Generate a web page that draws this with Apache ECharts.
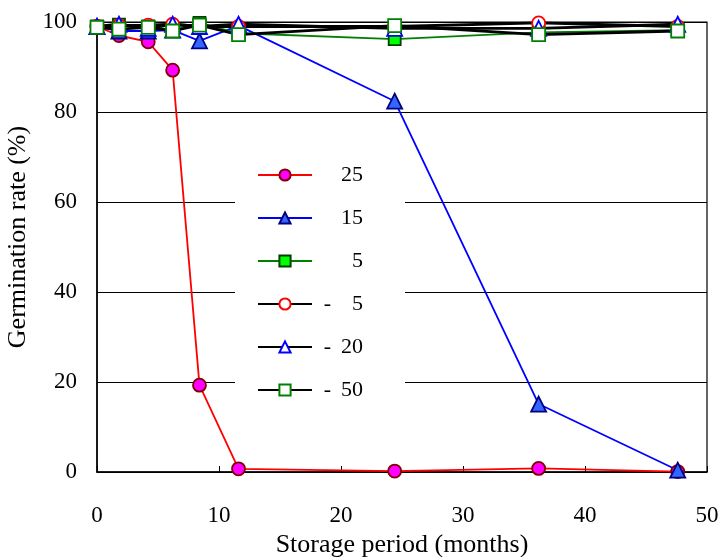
<!DOCTYPE html>
<html>
<head>
<meta charset="utf-8">
<script src="https://cdn.jsdelivr.net/npm/echarts@6/dist/echarts.min.js"></script>
<style>
html,body{margin:0;padding:0;background:#fff;}
#c{width:722px;height:557px;}
</style>
</head>
<body>
<div id="c"></div>
<script>
const months = [0, 1.8, 4.2, 6.2, 8.4, 11.6, 24.4, 36.2, 47.6];
const t25 = [99.0, 97.0, 95.6, 89.3, 19.3, 0.7, 0.2, 0.8, 0.1];
const t15 = [99.0, 98.0, 98.0, 98.2, 95.8, 99.2, 82.4, 15.1, 0.4];
const t5 = [99.0, 99.4, 99.0, 98.2, 99.8, 97.5, 96.2, 97.7, 98.2];
const tm5 = [99.0, 99.2, 99.3, 99.5, 99.0, 99.0, 99.0, 99.8, 99.0];
const tm20 = [99.0, 99.5, 98.6, 99.5, 99.0, 99.5, 98.6, 98.6, 99.5];
const tm50 = [98.8, 98.4, 98.8, 98.0, 99.3, 97.2, 99.2, 97.2, 98.0];
const seriesNames = ['25', '15', '5', '-5', '-20', '-50'];
const xTicks = [0, 10, 20, 30, 40, 50];
const yTicks = [0, 20, 40, 60, 80, 100];

const FONT = '"Liberation Serif", "DejaVu Serif", serif';
function pts(arr) { return months.map((m, i) => [m, arr[i]]); }

function mk(name, data, lineColor, lineWidth, symbol, size, fill, border) {
  return {
    name: name, type: 'line', data: pts(data),
    symbol: symbol, symbolSize: size, showSymbol: true,
    lineStyle: { color: lineColor, width: lineWidth },
    itemStyle: { color: fill, borderColor: border, borderWidth: 1.8 },
    emphasis: { disabled: true },
    animation: false
  };
}

const chart = echarts.init(document.getElementById('c'), null, { renderer: 'canvas' });
chart.setOption({
  backgroundColor: '#fff',
  animation: false,
  grid: { left: 97, right: 15, top: 22, bottom: 85, show: true, borderColor: '#000', borderWidth: 1.2, backgroundColor: 'transparent', containLabel: false, outerBoundsMode: 'none' },
  legend: {
    data: seriesNames,
    orient: 'vertical',
    left: 235, top: 151,
    padding: [13, 42, 13, 22],
    backgroundColor: '#fff',
    itemWidth: 54, itemHeight: 14, itemGap: 21,
    selectedMode: false,
    formatter: function (n) {
      if (n.charAt(0) === '-') return '{a|-}{b|' + n.slice(1) + '}';
      return '{a|}{b|' + n + '}';
    },
    textStyle: {
      fontFamily: FONT, fontSize: 22, color: '#000',
      rich: {
        a: { width: 14, align: 'right', fontFamily: FONT, fontSize: 22, color: '#000' },
        b: { width: 32, align: 'right', fontFamily: FONT, fontSize: 22, color: '#000' }
      }
    }
  },
  xAxis: {
    type: 'value', min: 0, max: 50, interval: 10,
    name: 'Storage period (months)', nameLocation: 'middle', nameGap: 59,
    nameTextStyle: { fontFamily: FONT, fontSize: 26, color: '#000' },
    axisLine: { onZero: false, lineStyle: { color: '#000', width: 1.5 } },
    axisTick: { inside: true, length: 6, lineStyle: { color: '#000' } },
    axisLabel: { fontFamily: FONT, fontSize: 23, color: '#000', margin: 32 },
    splitLine: { show: false }
  },
  yAxis: {
    type: 'value', min: 0, max: 100, interval: 20,
    name: 'Germination rate (%)', nameLocation: 'middle', nameGap: 59,
    nameTextStyle: { fontFamily: FONT, fontSize: 26, color: '#000', padding: [0, 0, 0, 20] },
    axisLine: { lineStyle: { color: '#000', width: 1.5 } },
    axisTick: { inside: true, length: 6, lineStyle: { color: '#000' } },
    axisLabel: { fontFamily: FONT, fontSize: 23, color: '#000', margin: 20 },
    splitLine: { show: true, lineStyle: { color: '#000', width: 1 } }
  },
  series: [
    mk('25', t25, '#ff0000', 1.8, 'circle', 13, '#ff00ff', '#800000'),
    mk('15', t15, '#0000ff', 1.8, 'triangle', 15, '#3366ff', '#000080'),
    mk('5', t5, '#008000', 1.8, 'rect', 12, '#00ff00', '#004000'),
    mk('-5', tm5, '#000000', 2.8, 'circle', 13, '#ffffff', '#ff0000'),
    mk('-20', tm20, '#000000', 2.8, 'triangle', 15, '#ffffff', '#0000ff'),
    mk('-50', tm50, '#000000', 2.8, 'rect', 13, '#ffffff', '#008000')
  ]
});
</script>
</body>
</html>
